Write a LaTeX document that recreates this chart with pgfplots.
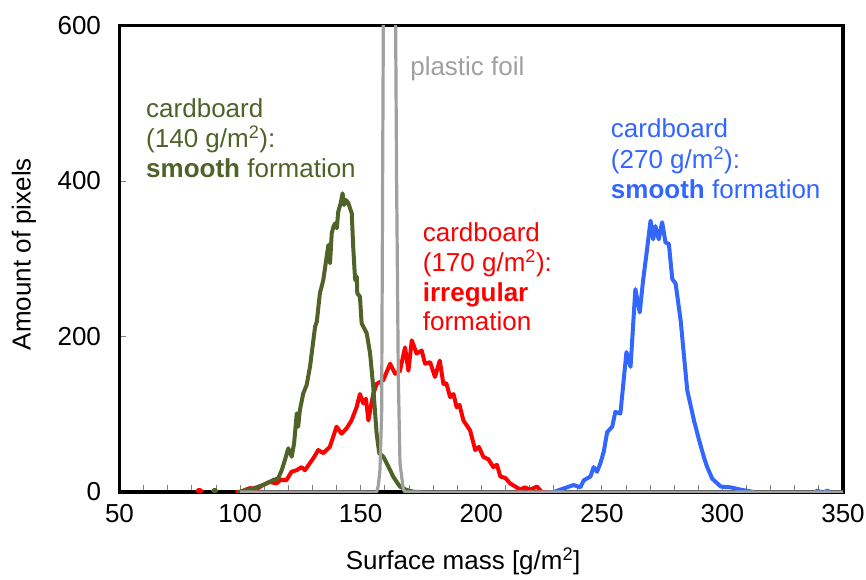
\documentclass[border=0pt]{standalone}
\usepackage{fontspec}
\setmainfont{Liberation Sans}
\usepackage{pgfplots}
\pgfplotsset{compat=1.18}
\definecolor{cgreen}{RGB}{79,98,40}
\definecolor{cred}{RGB}{255,0,0}
\definecolor{cblue}{RGB}{51,102,255}
\definecolor{cgrey}{RGB}{160,160,160}
\newcommand{\bigf}{\fontsize{26}{31}\selectfont}
\begin{document}
\begin{tikzpicture}
\begin{axis}[name=ax, scale only axis, width=723.5pt, height=466.5pt,
  xmin=50, xmax=350, ymin=0, ymax=600,
  xtick={50,100,...,350}, ytick={0,200,400,600}, minor x tick num=4,
  xtick pos=left, ytick pos=left,
  tick align=inside, major tick length=7pt, minor tick length=7pt,
  tick style={gray, line width=0.8pt},
  axis line style={draw=none},
  clip mode=individual,
  /pgf/number format/assume math mode=true,
  ticklabel style={font=\bigf},
  xticklabel style={yshift=-9pt},
  yticklabel style={xshift=-15pt},
  label style={font=\bigf},
  xlabel={Surface mass [g/m\textsuperscript{2}]},
  xlabel style={at={(axis description cs:0.475,-0.167)}, anchor=base},
  ylabel={Amount of pixels},
  ylabel style={at={(axis description cs:-0.132,0.51)}, anchor=center},
  unbounded coords=jump,
]
% frame, under the data
\draw[line width=3.6pt, line join=miter] (rel axis cs:0,0) rectangle (rel axis cs:1,1);
% cardboard 170 g/m2
\addplot[cred, line width=4pt, line join=round] coordinates {
(82,0) (83,3) (84.5,0) (nan,nan)
(98,0) (99.9,0) (104,5) (107,4) (109.5,9) (112.3,13) (115.1,11) (117,16) (119.2,15) (121.3,26) (123.4,28)
(125.5,32) (126.9,28) (128.9,37) (130.5,44) (132.4,54) (134.5,50) (137.2,58) (140,84) (142.1,75)
(144.2,82) (146.2,92) (148.3,109) (149.7,126) (151.1,114) (152.2,120) (153.2,92) (155.2,126)
(156.6,139) (159.4,144) (162.2,165) (164.3,152) (166.3,156) (168.4,186) (169.8,156)
(171.2,195) (173.2,178) (175.3,182) (176.7,165) (178.8,167) (180.8,148) (182.8,169)
(184.3,139) (185.5,140) (187.1,122) (188.5,126) (189.8,109) (191,112) (192.6,92) (195.4,79) (197.5,54) (199,58) (200.9,45)
(203,42) (205,32) (206.5,35) (207.9,20) (210,18) (212,11) (216.2,3) (218,6) (220.3,3) (223.1,7) (225.1,0) (230,0)
};
% cardboard 140 g/m2
\addplot[cgreen, line width=4pt, line join=round] coordinates {
(88.5,0) (89.5,3) (90.5,0) (nan,nan)
(99,0) (100,0.4) (105.5,4.7) (109.6,9) (113.8,15.4) (115.8,17.6) (117.3,28.3) (118.6,41.2)
(120,56.2) (121.4,45.4) (122.4,62.6) (123.5,101.2) (124.1,84) (124.8,105.5) (126.2,126.9)
(127.6,137.6) (129,161.2) (131.1,212.6) (131.8,219) (133.1,255.6) (134.5,272.7)
(135.9,302.6) (136.6,317.7) (137.3,294.2) (138,332.7) (138.7,341.2) (139.4,345.6)
(140.1,339.2) (140.7,360.5) (141.7,371.3) (142.5,384.2) (143.1,369.1) (143.9,375.6)
(144.9,371.3) (146.3,358.5) (146.9,315.5) (147.7,272.7) (148.4,277) (148.6,255.6)
(149.7,251.2) (150.4,217) (152.5,204.1) (153.9,178.4) (155.2,135.4) (156.6,75.5)
(157.7,49.8) (159.4,45.4) (160.8,36.9) (162.2,28.3) (163.5,19.7) (166.3,6.8)
(169.1,2.6) (171.8,0.4) (175,0)
};
% cardboard 270 g/m2
\addplot[cblue, line width=4pt, line join=round] coordinates {
(228,0) (230,0) (235.5,6) (238.3,9) (241.1,6) (242.5,15) (245.3,20) (246.6,32) (248,26)
(249.4,37) (250.8,52) (252.2,77) (254.3,84) (255.6,103) (257.7,101) (260.2,180)
(261.9,161) (263.9,261) (265.7,231) (267.1,272) (268.5,306) (270.2,349) (271.3,325)
(272.2,342) (273.6,325) (275,347) (276.4,321) (277.8,319) (279.2,274) (280.6,268)
(282.7,220) (285.4,131) (288.2,92) (290.3,67) (292.3,45) (293.7,32) (295.8,17)
(299.3,7) (303.4,6) (307.6,3) (313.1,0) (nan,nan)
(338.5,0) (339.5,2) (340.5,0) (nan,nan) (342.5,0) (343.5,2) (344.5,0)
};
% plastic foil
\addplot[cgrey, line width=3.2pt, line join=round] coordinates {
(100,0) (155,0) (156.6,0) (157.3,8) (158,28) (158.7,102) (159.1,401) (159.4,600)
(159.7,900) (162,1500) (164.2,900) (164.5,600) (164.9,401) (165.6,150) (166.3,37)
(167.7,3) (168.5,0) (350,0)
};
\node[anchor=base west, inner sep=0, text=cgreen, font=\bigf] at (axis cs:61,482.3) {cardboard};
\node[anchor=base west, inner sep=0, text=cgreen, font=\bigf] at (axis cs:61,443.1) {(140 g/m\textsuperscript{2}):};
\node[anchor=base west, inner sep=0, text=cgreen, font=\bigf] at (axis cs:61,403.9) {\textbf{smooth} formation};
\node[anchor=base west, inner sep=0, text=cred, font=\bigf] at (axis cs:175.7,322.8) {cardboard};
\node[anchor=base west, inner sep=0, text=cred, font=\bigf] at (axis cs:175.7,284.2) {(170 g/m\textsuperscript{2}):};
\node[anchor=base west, inner sep=0, text=cred, font=\bigf] at (axis cs:175.7,245.6) {\textbf{irregular}};
\node[anchor=base west, inner sep=0, text=cred, font=\bigf] at (axis cs:175.7,207.1) {formation};
\node[anchor=base west, inner sep=0, text=cblue, font=\bigf] at (axis cs:253.7,456.2) {cardboard};
\node[anchor=base west, inner sep=0, text=cblue, font=\bigf] at (axis cs:253.7,416.3) {(270 g/m\textsuperscript{2}):};
\node[anchor=base west, inner sep=0, text=cblue, font=\bigf] at (axis cs:253.7,376.9) {\textbf{smooth} formation};
\node[anchor=base west, inner sep=0, text=cgrey, font=\bigf] at (axis cs:170.5,536.3) {plastic foil};
\end{axis}
\pgfresetboundingbox
\path ([xshift=-119.5pt,yshift=-87pt]ax.south west) rectangle ([xshift=23pt,yshift=25.5pt]ax.north east);
\end{tikzpicture}
\end{document}
